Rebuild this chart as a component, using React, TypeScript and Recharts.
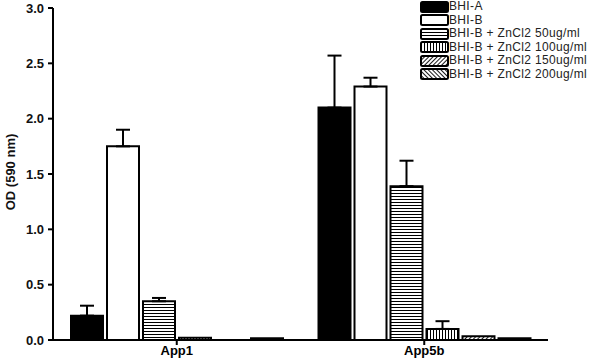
import { BarChart, Bar, XAxis, YAxis, ErrorBar } from 'recharts'

const CATEGORIES = ['App1', 'App5b']
const SERIES = [
  { key: 'bhiA', name: 'BHI-A', fill: '#000' },
  { key: 'bhiB', name: 'BHI-B', fill: '#fff' },
  { key: 'zn50', name: 'BHI-B + ZnCl2 50ug/ml', fill: 'url(#hlines)' },
  { key: 'zn100', name: 'BHI-B + ZnCl2 100ug/ml', fill: 'url(#vlines)' },
  { key: 'zn150', name: 'BHI-B + ZnCl2 150ug/ml', fill: 'url(#fwd)' },
  { key: 'zn200', name: 'BHI-B + ZnCl2 200ug/ml', fill: 'url(#back)' },
]
// means per series, [App1, App5b]
const MEANS: Record<string, number[]> = {
  bhiA: [0.22, 2.1],
  bhiB: [1.75, 2.29],
  zn50: [0.35, 1.39],
  zn100: [0.02, 0.1],
  zn150: [0, 0.035],
  zn200: [0.015, 0.015],
}
// upper error (SEM), null = none drawn
const ERRORS: Record<string, (number | null)[]> = {
  bhiA: [0.09, 0.47],
  bhiB: [0.15, 0.08],
  zn50: [0.03, 0.23],
  zn100: [null, 0.07],
  zn150: [null, null],
  zn200: [null, null],
}
const Y_TICKS = [0, 0.5, 1.0, 1.5, 2.0, 2.5, 3.0]

const data = CATEGORIES.map((name, i) => {
  const row: Record<string, unknown> = { name }
  SERIES.forEach((s) => {
    row[s.key] = MEANS[s.key][i]
    const e = ERRORS[s.key][i]
    row[s.key + 'Err'] = e == null ? null : [0, e]
  })
  return row
})

const FONT = '"Liberation Sans", Arial, sans-serif'

function Patterns() {
  return (
    <defs>
      <pattern id="hlines" width="4" height="3" patternUnits="userSpaceOnUse">
        <rect width="4" height="3" fill="#fff" />
        <line x1="0" y1="1.5" x2="4" y2="1.5" stroke="#000" strokeWidth="1" />
      </pattern>
      <pattern id="vlines" width="3" height="4" patternUnits="userSpaceOnUse">
        <rect width="3" height="4" fill="#fff" />
        <line x1="1.5" y1="0" x2="1.5" y2="4" stroke="#000" strokeWidth="1" />
      </pattern>
      <pattern id="fwd" width="3" height="3" patternUnits="userSpaceOnUse" patternTransform="rotate(45)">
        <rect width="3" height="3" fill="#fff" />
        <line x1="1.5" y1="0" x2="1.5" y2="3" stroke="#000" strokeWidth="0.9" />
      </pattern>
      <pattern id="back" width="3" height="3" patternUnits="userSpaceOnUse" patternTransform="rotate(-45)">
        <rect width="3" height="3" fill="#fff" />
        <line x1="1.5" y1="0" x2="1.5" y2="3" stroke="#000" strokeWidth="0.9" />
      </pattern>
    </defs>
  )
}

function YLabel({ viewBox }: any) {
  const x = 10
  const y = viewBox.y + viewBox.height / 2 - 2
  return (
    <text x={x} y={y} transform={`rotate(-90 ${x} ${y})`} textAnchor="middle" dominantBaseline="central"
      fontSize={13} fontWeight="bold" fill="#111" fontFamily={FONT}>
      OD (590 nm)
    </text>
  )
}

export default function App() {
  return (
    <div style={{ position: 'absolute', left: 0, top: 0, width: 600, height: 360, background: '#fff', fontFamily: FONT }}>
      <BarChart width={600} height={360} data={data} margin={{ top: 8, right: 52, bottom: 0, left: 0 }}
        barCategoryGap={18} barGap={4}>
        <Patterns />
        <XAxis dataKey="name" height={20} stroke="#000" strokeWidth={2} tickSize={5} tickMargin={1}
          tick={{ fill: '#000', fontSize: 13, fontWeight: 'bold', fontFamily: FONT }} />
        <YAxis domain={[0, 3]} ticks={Y_TICKS} width={53} stroke="#000" strokeWidth={2} tickSize={5} tickMargin={4}
          tickFormatter={(v: number) => v.toFixed(1)}
          tick={{ fill: '#111', fontSize: 13, fontWeight: 'bold', fontFamily: FONT }}
          label={{ content: YLabel }} />
        {SERIES.map((s) => (
          <Bar key={s.key} dataKey={s.key} fill={s.fill} stroke="#000" strokeWidth={2} isAnimationActive={false}>
            <ErrorBar dataKey={s.key + 'Err'} width={7} stroke="#000" strokeWidth={2} direction="y" />
          </Bar>
        ))}
      </BarChart>
      <div style={{ position: 'absolute', left: 420, top: 0, fontSize: 12, letterSpacing: 0.35, color: '#222', lineHeight: '13.5px' }}>
        {SERIES.map((s) => (
          <div key={s.key} style={{ display: 'flex', alignItems: 'center', height: 13.5 }}>
            <svg width={29} height={12} style={{ display: 'block' }}>
              <rect x={1} y={1} width={27} height={10} rx={1.5} fill={s.fill} stroke="#000" strokeWidth={2} />
            </svg>
            <span style={{ whiteSpace: 'nowrap' }}>{s.name}</span>
          </div>
        ))}
      </div>
    </div>
  )
}
